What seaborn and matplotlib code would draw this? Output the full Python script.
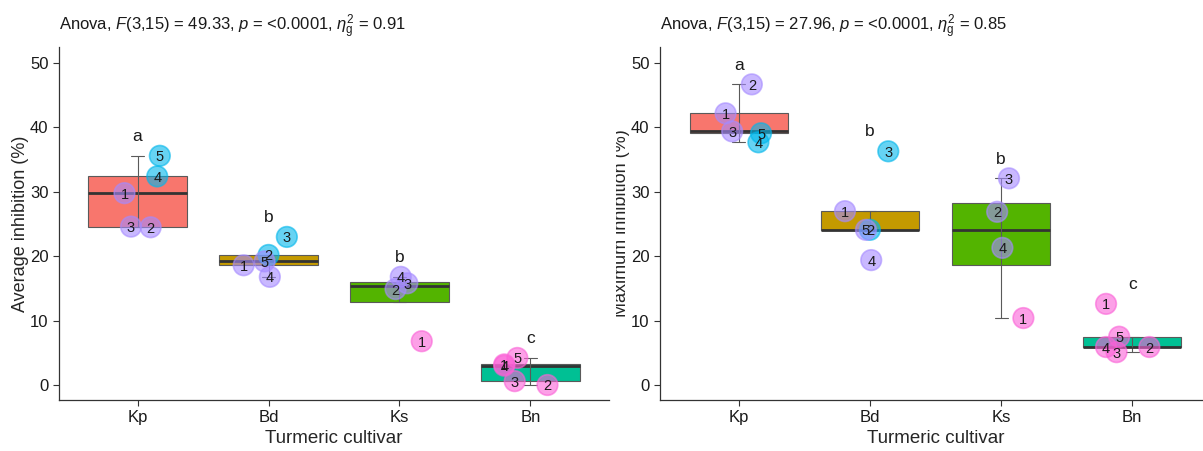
import numpy as np
import pandas as pd
import seaborn as sns
import matplotlib.pyplot as plt
from matplotlib.transforms import Bbox

# ---- data ----
cultivars = ["Kp", "Bd", "Ks", "Bn"]
replicates = [1, 2, 3, 4, 5]

# average inhibition (%) per cultivar, replicate 1..5 (Ks replicate 5 missing)
avg_kp = [29.8, 24.5, 24.6, 32.4, 35.6]
avg_bd = [18.6, 20.2, 23.0, 16.8, 19.2]
avg_ks = [6.8, 14.9, 15.8, 16.8, np.nan]
avg_bn = [3.2, 0.0, 0.6, 3.0, 4.2]

# maximum inhibition (%) per cultivar, replicate 1..5
max_kp = [42.2, 46.7, 39.4, 37.7, 39.1]
max_bd = [27.0, 24.1, 36.3, 19.4, 24.1]
max_ks = [10.4, 26.9, 32.1, 21.3, np.nan]
max_bn = [12.6, 5.9, 5.1, 5.9, 7.5]

# point colour group per replicate (same in both panels)
groups_kp = ["mid", "mid", "mid", "high", "high"]
groups_bd = ["mid", "high", "high", "mid", "mid"]
groups_ks = ["low", "mid", "mid", "mid", "mid"]
groups_bn = ["low", "low", "low", "low", "low"]

# horizontal jitter of the labelled points (same seed in both panels)
jitter_x = {"Kp": [-0.10, 0.10, -0.05, 0.15, 0.17],
            "Bd": [-0.19, 0.00, 0.14, 0.01, -0.03],
            "Ks": [0.17, -0.03, 0.06, 0.01, 0.02],
            "Bn": [-0.20, 0.13, -0.12, -0.20, -0.10]}

letters = ["a", "b", "b", "c"]
avg_title = r"Anova, $F$(3,15) = 49.33, $p$ = <0.0001, $\eta_\mathrm{g}^2$ = 0.91"
max_title = r"Anova, $F$(3,15) = 27.96, $p$ = <0.0001, $\eta_\mathrm{g}^2$ = 0.85"

box_colors = {"Kp": "#F8766D", "Bd": "#C49A00", "Ks": "#53B400", "Bn": "#00C094"}
point_colors = {"high": "#00B6EB", "mid": "#A58AFF", "low": "#FB61D7"}


def make_frame(values):
    groups = [groups_kp, groups_bd, groups_ks, groups_bn]
    rows = []
    for i, (c, vals, grp) in enumerate(zip(cultivars, values, groups)):
        for r, v, g, jx in zip(replicates, vals, grp, jitter_x[c]):
            if np.isnan(v):
                continue
            rows.append(dict(cultivar=c, rep=r, value=v, group=g, xpos=i + jx))
    return pd.DataFrame(rows)


def draw_panel(ax, df, ylabel, title):
    sns.boxplot(data=df, x="cultivar", y="value", hue="cultivar",
                order=cultivars, palette=box_colors, saturation=1,
                width=0.75, whis=1.5, showfliers=False, legend=False,
                linecolor="#5a5a5a", linewidth=0.8,
                medianprops=dict(color="#333333", linewidth=2),
                capwidths=0.1, ax=ax)
    # errorbar line through the box, as ggplot draws it
    for i, c in enumerate(cultivars):
        q1, q3 = np.percentile(df.loc[df.cultivar == c, "value"], [25, 75])
        ax.vlines(i, q1, q3, color="#5a5a5a", linewidth=0.8, zorder=2.5)

    sns.scatterplot(data=df, x="xpos", y="value", hue="group",
                    palette=point_colors, s=220, alpha=0.6,
                    edgecolor="face", linewidth=1.2, legend=False,
                    zorder=3, ax=ax)
    for _, row in df.iterrows():
        ax.text(row.xpos, row.value, str(row.rep), ha="center",
                va="center_baseline", fontsize=10.5, color="#1a1a1a", zorder=4)

    # significance letters above the highest point
    for i, c in enumerate(cultivars):
        top = df.loc[df.cultivar == c, "value"].max()
        ax.text(i, top + 3, letters[i], ha="center", va="center",
                fontsize=12.5, color="#1a1a1a", zorder=4)

    ax.set_xlim(-0.6, 3.6)
    ax.set_ylim(-2.33, 52.5)
    ax.set_yticks([0, 10, 20, 30, 40, 50])
    ax.set_xlabel("Turmeric cultivar", fontsize=13.5, labelpad=3)
    ax.set_ylabel(ylabel, fontsize=13, labelpad=1)
    ax.tick_params(labelsize=12, colors="#333333", labelcolor="#1a1a1a",
                   length=4, width=0.8)
    for side in ["top", "right"]:
        ax.spines[side].set_visible(False)
    for side in ["left", "bottom"]:
        ax.spines[side].set_color("#333333")
        ax.spines[side].set_linewidth(0.9)
    ax.text(0.0, 1.058, title, transform=ax.transAxes, fontsize=12,
            ha="left", va="center", color="#1a1a1a")


sns.set_style("ticks")
plt.rcParams["font.family"] = ["Liberation Sans", "DejaVu Sans"]
plt.rcParams["mathtext.fontset"] = "custom"
plt.rcParams["mathtext.rm"] = "Liberation Sans"
plt.rcParams["mathtext.it"] = "Liberation Sans:italic"

fig = plt.figure(figsize=(12.03, 4.51), dpi=100)
ax1 = fig.add_axes([59 / 1203, 51 / 451, 550 / 1203, 353 / 451])
ax2 = fig.add_axes([660 / 1203, 51 / 451, 551 / 1203, 353 / 451])

df_avg = make_frame([avg_kp, avg_bd, avg_ks, avg_bn])
df_max = make_frame([max_kp, max_bd, max_ks, max_bn])

draw_panel(ax1, df_avg, "Average inhibition (%)", avg_title)
draw_panel(ax2, df_max, "Maximum inhibition (%)", max_title)

# the right panel's y label is cut off on its left side in the source
lab = ax2.yaxis.label
lab.set_clip_box(Bbox([[616, 0], [1203, 451]]))
lab.set_clip_on(True)

fig.savefig("out.png", dpi=100, facecolor="white")
